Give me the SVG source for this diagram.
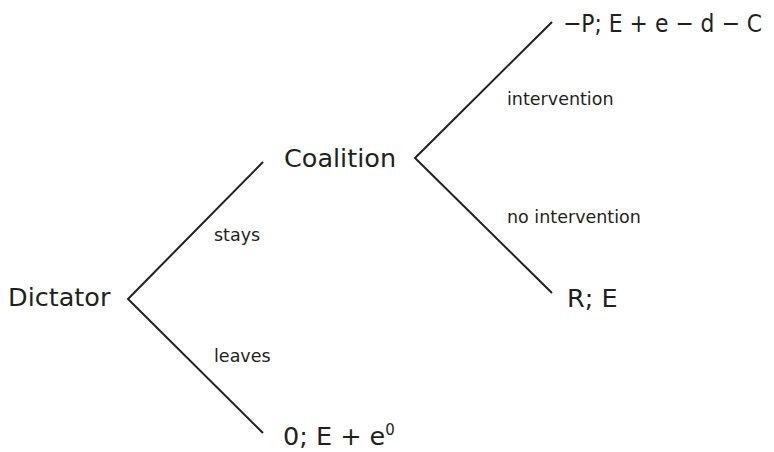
<svg xmlns="http://www.w3.org/2000/svg" width="774" height="452" viewBox="0 0 774 452">
<style>
.big{font-family:"DejaVu Sans",Verdana,sans-serif;font-size:25.5px;fill:#231f20}
.lab{font-family:"DejaVu Sans",Verdana,sans-serif;font-size:17.5px;fill:#231f20}
.edge{fill:none;stroke:#231f20;stroke-width:2}
</style>
<rect width="774" height="452" fill="#fff"/>
<g id="connectors">
<polyline class="edge" points="263,162 128,299 263,433"/>
<polyline class="edge" points="552,22 415,158 552,293"/>
</g>
<g id="edge-labels">
<text class="lab" x="214" y="241">stays</text>
<text class="lab" x="214" y="362">leaves</text>
<text class="lab" x="507" y="105">intervention</text>
<text class="lab" x="507" y="223">no intervention</text>
</g>
<g id="dictator"><text class="big" x="8" y="306">Dictator</text></g>
<g id="coalition"><text class="big" x="284" y="167">Coalition</text></g>
<g id="payoff-intervention"><text class="big" x="563" y="32" textLength="199" lengthAdjust="spacingAndGlyphs">−P; E + e − d − C</text></g>
<g id="payoff-no-intervention"><text class="big" x="567" y="307">R; E</text></g>
<g id="payoff-leaves"><text class="big" x="283" y="445">0; E + e<tspan font-size="15" dy="-10">0</tspan></text></g>
</svg>
